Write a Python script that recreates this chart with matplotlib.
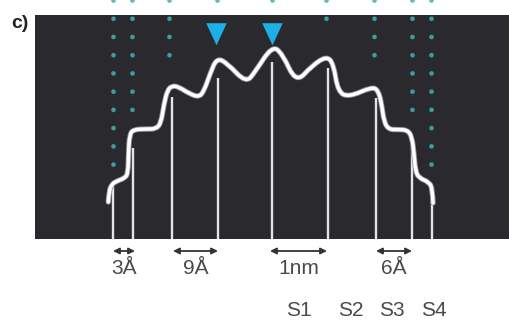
"""Schematic height profile of a stepped mound with shell markers (panel c)."""

import numpy as np
import matplotlib.pyplot as plt
import matplotlib.patheffects as pe
from matplotlib.path import Path
from matplotlib.patches import PathPatch

# -- Profile (position / height in arbitrary units, centre at 0) --
PROFILE_X = [-163.7, -163.0, -160.0, -155.0, -147.0, -144.0, -143.5, -142.5,
             -138.7, -126.0, -116.0, -111.0, -108.0, -104.5, -100.0, -94.0,
             -82.0, -73.0, -68.0, -62.0, -55.3, -45.0, -26.0, -17.0, 0.0,
             10.0, 24.0, 39.7, 54.7, 61.5, 66.0, 77.0, 99.7, 106.0,
             109.5, 112.0, 117.0, 126.0, 135.5, 140.0, 142.0, 143.5,
             147.0, 157.0, 160.5, 161.0]
PROFILE_Y = [37.0, 48.0, 55.0, 58.0, 61.0, 66.0, 86.0, 104.0,
             109.5, 110.0, 110.0, 116.0, 135.0, 149.0, 153.0, 152.5,
             145.0, 142.0, 148.0, 165.0, 181.0, 176.0, 156.0, 167.0, 193.0,
             186.0, 156.0, 173.0, 183.0, 175.0, 147.0, 142.0, 152.0, 149.0,
             136.0, 117.0, 109.5, 109.5, 109.0, 102.0, 85.0, 68.0,
             61.0, 57.0, 50.0, 36.0]

# step edges: x position and top of the vertical marker line
STEP_X = [-159, -139, -100, -54, 0, 56, 104, 140, 160]
STEP_TOP = [53, 91, 142, 161, 177, 171, 141, 91, 37]

# dotted guide lines: x position and lower end
GUIDE_X = [-159, -140, -103, -55, 0, 54, 102, 140, 159]
GUIDE_END = [62, 119, 169, 223, 234, 209, 169, 114, 67]
GUIDE_TOP = 239

# peak markers
PEAK_X = [-56, 0]
PEAK_Y = [206, 206]

# spacing arrows
SPANS = [(-159, -137), (-99, -54), (-2, 55), (104, 140)]
SPAN_LABELS = ["3Å", "9Å", "1nm", "6Å"]

# shell labels
SHELL_X = [27, 79, 120, 162]
SHELL_LABELS = ["S1", "S2", "S3", "S4"]

BG = "#2a2a2e"
LINE = "#e4e4e4"
DOT = "#3fb2b4"
TRI = "#1eaee8"
TEXT = "#4a4a4a"

plt.rcParams["font.family"] = ["Liberation Sans", "DejaVu Sans"]


def smooth_path(xs, ys):
    """Quadratic Bezier chain: vertices act as control points, curve passes
    through the midpoints between them."""
    pts = np.column_stack([xs, ys])
    verts = [pts[0]]
    codes = [Path.MOVETO]
    for i in range(1, len(pts) - 1):
        mid = (pts[i] + pts[i + 1]) / 2
        if i == len(pts) - 2:
            mid = pts[i + 1]
        verts += [pts[i], mid]
        codes += [Path.CURVE3, Path.CURVE3]
    return Path(verts, codes)


fig = plt.figure(figsize=(5.1, 3.23), dpi=100)
ax = fig.add_axes([35 / 510, 84 / 323, 475 / 510, 224 / 323])
ax.set_facecolor(BG)
ax.set_xlim(-237, 238)
ax.set_ylim(0, 224)
ax.set_xticks([])
ax.set_yticks([])
for sp in ax.spines.values():
    sp.set_visible(False)

# dotted guides run from the top edge of the figure down to the profile
for gx, gend in zip(GUIDE_X, GUIDE_END):
    ax.plot([gx, gx], [GUIDE_TOP, gend], color=DOT, lw=3.4,
            linestyle=(0, (0.01, 3.85)), dash_capstyle="round",
            clip_on=False, zorder=2, alpha=0.85)

# vertical step lines
for sx, top in zip(STEP_X, STEP_TOP):
    ax.plot([sx, sx], [0, top], color=LINE, lw=1.7, zorder=3,
            solid_capstyle="butt")

# the profile itself
prof = PathPatch(smooth_path(PROFILE_X, PROFILE_Y), facecolor="none",
                 edgecolor="white", lw=2.5, zorder=4, capstyle="round",
                 joinstyle="round",
                 path_effects=[pe.Stroke(linewidth=3.8, foreground="#9a9a9a"),
                               pe.Normal()])
ax.add_patch(prof)

# peak triangles
tri = [(-1, 1), (1, 1), (0, -1.15), (-1, 1)]
ax.plot(PEAK_X, PEAK_Y, linestyle="none", marker=tri, markersize=17,
        color=TRI, markeredgewidth=0, clip_on=False, zorder=5)

# spacing arrows and labels under the box
for (x0, x1), lab in zip(SPANS, SPAN_LABELS):
    ax.annotate("", xy=(x0, -12), xytext=(x1, -12),
                arrowprops=dict(arrowstyle="<|-|>", color="#333333",
                                lw=1.3, mutation_scale=9,
                                shrinkA=0, shrinkB=0),
                annotation_clip=False)
    ax.text((x0 + x1) / 2, -30, lab, ha="center", va="center",
            fontsize=15, color=TEXT, clip_on=False)

for sx, lab in zip(SHELL_X, SHELL_LABELS):
    ax.text(sx, -72, lab, ha="center", va="center", fontsize=15,
            color=TEXT, clip_on=False)

fig.text(11 / 510, 1 - 23 / 323, "c)", ha="left", va="center",
         fontsize=14, fontweight="bold", color="#222222")

fig.savefig("out.png", dpi=100)
